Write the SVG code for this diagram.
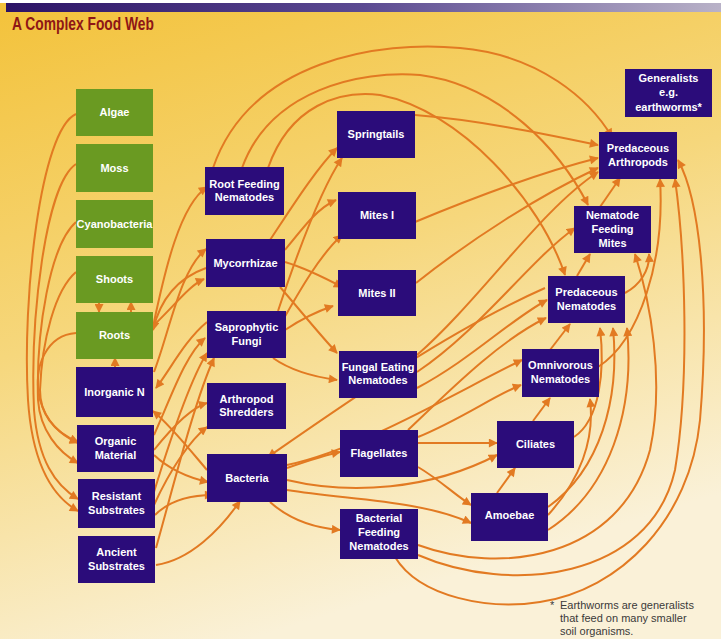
<svg xmlns="http://www.w3.org/2000/svg" width="721" height="639" viewBox="0 0 721 639">
<defs>
<linearGradient id="bg" x1="0" y1="0" x2="0.35" y2="1">
<stop offset="0" stop-color="#f3c23a"/>
<stop offset="0.5" stop-color="#f6d77c"/>
<stop offset="1" stop-color="#faf1d8"/>
</linearGradient>
<linearGradient id="bar" x1="0" y1="0" x2="1" y2="0">
<stop offset="0" stop-color="#2c1366"/>
<stop offset="0.5" stop-color="#5b4a92"/>
<stop offset="1" stop-color="#b9b2c8"/>
</linearGradient>
<marker id="a" viewBox="0 0 10 10" refX="9" refY="5" markerWidth="10" markerHeight="9" markerUnits="userSpaceOnUse" orient="auto">
<path d="M0,0 L10,5 L0,10 z" fill="#e27a22"/>
</marker>
<style>
.g rect{fill:#6a9a22}
.p rect{fill:#2b0c7a}
.n text{fill:#ffffff;font-family:"Liberation Sans",Arial,sans-serif;font-weight:bold;font-size:11px;text-anchor:middle}
#edges path{fill:none;stroke:#e27a22;stroke-width:2;marker-end:url(#a)}
</style>
</defs>
<rect x="0" y="0" width="721" height="639" fill="url(#bg)"/>
<rect x="0" y="0" width="721" height="3" fill="#ffffff"/>
<rect x="6" y="3" width="715" height="9" fill="url(#bar)"/>
<text x="12" y="30" font-family="'Liberation Sans',Arial,sans-serif" font-weight="bold" font-size="18" fill="#8e1616" textLength="142" lengthAdjust="spacingAndGlyphs">A Complex Food Web</text>

<g id="edges">
<!-- left bundle -->
<path d="M76,114 C40,130 22,300 28,400 C32,460 50,495 78,511"/>
<path d="M76,164 C45,185 30,320 34,410 C38,460 55,485 78,499"/>
<path d="M76,222 C50,245 36,330 38,400 C40,430 58,452 78,463"/>
<path d="M76,272 C55,290 42,340 40,390 C40,415 55,432 78,442"/>
<path d="M76,333 C48,335 32,365 40,400 C46,420 60,435 78,443"/>
<!-- shoots/roots/inorganic -->
<path d="M99,300 L99,312"/>
<path d="M131,314 L131,302"/>
<path d="M115,369 L115,358"/>
<!-- col1 to col2 -->
<path d="M154,322 C165,270 180,205 207,187"/>
<path d="M154,325 C175,305 190,285 204,279"/>
<path d="M154,372 C170,330 180,270 206,249"/>
<path d="M206,268 C178,278 160,300 153,330"/>
<path d="M207,322 C185,340 170,370 156,388"/>
<path d="M154,435 C170,400 185,355 205,338"/>
<path d="M154,492 C170,440 190,380 207,353"/>
<path d="M156,548 C175,480 195,400 214,358"/>
<path d="M154,450 C170,430 190,408 207,403"/>
<path d="M154,505 C170,470 190,440 207,427"/>
<path d="M154,455 C170,470 190,478 208,482"/>
<path d="M155,515 C170,500 190,495 213,495"/>
<path d="M156,565 C190,560 220,530 240,501"/>
<path d="M207,470 C190,450 170,425 153,411"/>
<!-- col2 to col3 -->
<path d="M270,240 C290,210 315,170 337,148"/>
<path d="M278,311 C295,260 320,190 342,158"/>
<path d="M285,250 C305,225 318,208 336,200"/>
<path d="M283,320 C300,290 320,255 342,235"/>
<path d="M285,262 C305,268 325,278 342,287"/>
<path d="M285,330 C300,320 315,312 333,306"/>
<path d="M280,287 C300,310 320,335 337,353"/>
<path d="M273,358 C290,370 315,377 337,380"/>
<!-- top arcs -->
<path d="M213,168 C250,60 380,40 460,48 C540,55 590,100 612,137"/>
<path d="M242,168 C270,90 360,70 420,75 C500,85 560,150 588,205"/>
<path d="M268,168 C290,105 340,90 380,95 C460,110 540,200 565,275"/>
<!-- to predaceous arthropods -->
<path d="M415,115 C480,120 550,135 598,145"/>
<path d="M415,222 C480,195 550,170 598,158"/>
<path d="M416,283 C470,240 540,195 598,168"/>
<!-- FEN -->
<path d="M417,355 C480,300 540,210 598,172"/>
<path d="M417,372 C480,330 530,260 575,228"/>
<path d="M417,388 C470,360 510,320 547,300"/>
<!-- flagellates / bacteria -->
<path d="M408,430 C450,390 500,340 546,318"/>
<path d="M418,437 C460,420 495,395 521,385"/>
<path d="M545,288 C450,330 350,400 268,457"/>
<path d="M287,465 C360,450 460,390 522,360"/>
<path d="M287,468 C310,460 325,455 340,452"/>
<path d="M287,480 C350,495 430,490 497,455"/>
<path d="M287,490 C350,500 420,500 471,523"/>
<path d="M270,502 C290,520 315,528 340,530"/>
<path d="M418,443 L497,443"/>
<path d="M418,467 C440,480 455,495 471,505"/>
<path d="M533,421 L550,398"/>
<path d="M497,493 L515,468"/>
<path d="M550,350 L570,324"/>
<path d="M577,276 L590,254"/>
<path d="M600,207 L620,178"/>
<!-- right side curves -->
<path d="M625,293 C640,285 650,270 649,254"/>
<path d="M598,367 C640,340 665,260 660,179"/>
<path d="M574,437 C600,420 605,370 600,328"/>
<path d="M548,507 C600,470 620,400 613,328"/>
<path d="M548,530 C610,490 635,410 627,328"/>
<path d="M548,515 C580,480 595,440 590,399"/>
<path d="M418,545 C500,575 620,560 650,450 C665,380 650,300 635,254"/>
<path d="M418,555 C510,595 650,580 675,470 C690,380 685,250 675,179"/>
<path d="M395,557 C420,598 490,610 540,602 C620,590 690,520 700,420 C710,300 700,200 678,160"/>
</g>

<g id="algae" class="n g"><rect x="76" y="89" width="77" height="47"/><text x="114.5" y="116">Algae</text></g>
<g id="moss" class="n g"><rect x="76" y="144" width="77" height="48"/><text x="114.5" y="172">Moss</text></g>
<g id="cyanobacteria" class="n g"><rect x="76" y="200" width="77" height="48"/><text x="114.5" y="228">Cyanobacteria</text></g>
<g id="shoots" class="n g"><rect x="76" y="256" width="77" height="47"/><text x="114.5" y="283">Shoots</text></g>
<g id="roots" class="n g"><rect x="76" y="312" width="77" height="47"/><text x="114.5" y="339">Roots</text></g>
<g id="inorganic-n" class="n p"><rect x="76" y="367" width="77" height="50"/><text x="114.5" y="396">Inorganic N</text></g>
<g id="organic-material" class="n p"><rect x="77" y="425" width="77" height="47"/><text x="115.5" y="445">Organic</text><text x="115.5" y="459">Material</text></g>
<g id="resistant-substrates" class="n p"><rect x="78" y="479" width="77" height="49"/><text x="116.5" y="500">Resistant</text><text x="116.5" y="514">Substrates</text></g>
<g id="ancient-substrates" class="n p"><rect x="78" y="536" width="77" height="47"/><text x="116.5" y="556">Ancient</text><text x="116.5" y="570">Substrates</text></g>

<g id="root-feeding-nematodes" class="n p"><rect x="205" y="167" width="79" height="48"/><text x="244.5" y="188">Root Feeding</text><text x="244.5" y="201">Nematodes</text></g>
<g id="mycorrhizae" class="n p"><rect x="206" y="239" width="79" height="48"/><text x="245.5" y="267">Mycorrhizae</text></g>
<g id="saprophytic-fungi" class="n p"><rect x="207" y="311" width="79" height="47"/><text x="246.5" y="331">Saprophytic</text><text x="246.5" y="345">Fungi</text></g>
<g id="arthropod-shredders" class="n p"><rect x="207" y="383" width="79" height="46"/><text x="246.5" y="403">Arthropod</text><text x="246.5" y="416">Shredders</text></g>
<g id="bacteria" class="n p"><rect x="207" y="454" width="80" height="48"/><text x="247" y="482">Bacteria</text></g>

<g id="springtails" class="n p"><rect x="337" y="111" width="78" height="47"/><text x="376" y="138">Springtails</text></g>
<g id="mites-i" class="n p"><rect x="338" y="192" width="78" height="47"/><text x="377" y="219">Mites I</text></g>
<g id="mites-ii" class="n p"><rect x="338" y="270" width="78" height="46"/><text x="377" y="297">Mites II</text></g>
<g id="fungal-eating-nematodes" class="n p"><rect x="339" y="351" width="78" height="47"/><text x="378" y="371">Fungal Eating</text><text x="378" y="384">Nematodes</text></g>
<g id="flagellates" class="n p"><rect x="340" y="430" width="78" height="47"/><text x="379" y="457">Flagellates</text></g>
<g id="bacterial-feeding-nematodes" class="n p"><rect x="340" y="509" width="78" height="50"/><text x="379" y="522">Bacterial</text><text x="379" y="536">Feeding</text><text x="379" y="550">Nematodes</text></g>

<g id="ciliates" class="n p"><rect x="497" y="421" width="77" height="47"/><text x="535.5" y="448">Ciliates</text></g>
<g id="amoebae" class="n p"><rect x="471" y="493" width="77" height="48"/><text x="509.5" y="519">Amoebae</text></g>
<g id="omnivorous-nematodes" class="n p"><rect x="522" y="349" width="77" height="48"/><text x="560.5" y="369">Omnivorous</text><text x="560.5" y="383">Nematodes</text></g>
<g id="predaceous-nematodes" class="n p"><rect x="548" y="276" width="77" height="47"/><text x="586.5" y="296">Predaceous</text><text x="586.5" y="310">Nematodes</text></g>
<g id="nematode-feeding-mites" class="n p"><rect x="574" y="206" width="77" height="47"/><text x="612.5" y="219">Nematode</text><text x="612.5" y="233">Feeding</text><text x="612.5" y="247">Mites</text></g>
<g id="predaceous-arthropods" class="n p"><rect x="599" y="132" width="78" height="47"/><text x="638" y="152">Predaceous</text><text x="638" y="166">Arthropods</text></g>
<g id="generalists" class="n p"><rect x="625" y="69" width="87" height="48"/><text x="668.5" y="82">Generalists</text><text x="668.5" y="96">e.g.</text><text x="668.5" y="111">earthworms*</text></g>

<g font-family="'Liberation Sans',Arial,sans-serif" font-size="11" fill="#3a3a3a">
<text x="550" y="609">*</text>
<text x="560" y="609">Earthworms are generalists</text>
<text x="560" y="622">that feed on many smaller</text>
<text x="560" y="635">soil organisms.</text>
</g>
</svg>
